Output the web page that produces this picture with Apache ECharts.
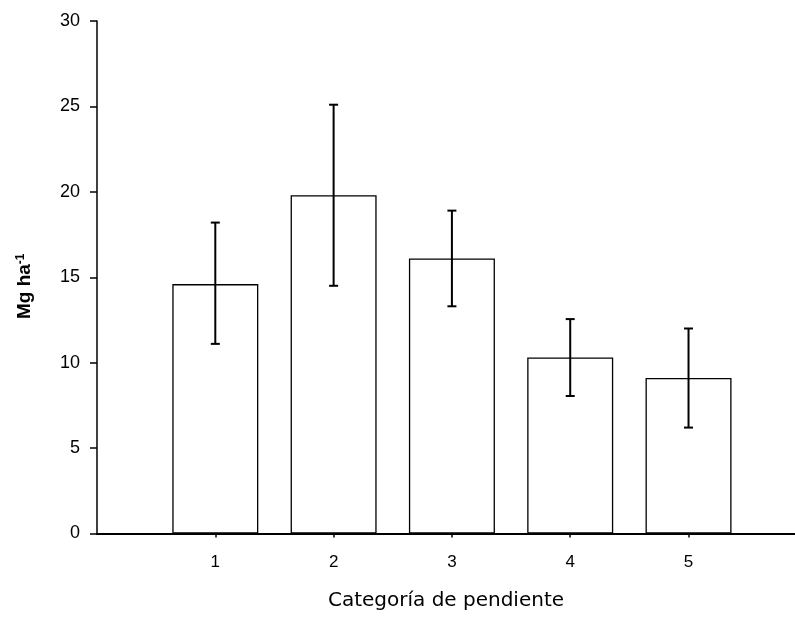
<!DOCTYPE html>
<html>
<head>
<meta charset="utf-8">
<script src="https://cdn.jsdelivr.net/npm/echarts@6/dist/echarts.min.js"></script>
<style>html,body{margin:0;padding:0;background:#fff}#c{width:795px;height:617px}</style>
</head>
<body>
<div id="c"></div>
<script>
const categories = [1, 2, 3, 4, 5];
const means = [14.6, 19.8, 16.1, 10.3, 9.1];
const errLow = [11.1, 14.5, 13.3, 8.05, 6.2];
const errHigh = [18.2, 25.1, 18.9, 12.55, 12.0];
const yTicks = [0, 5, 10, 15, 20, 25, 30];
const xMax = 5.9;

const chart = echarts.init(document.getElementById('c'));
const font = 'Liberation Sans, Arial, sans-serif';
chart.setOption({
  animation: false,
  backgroundColor: '#fff',
  grid: { left: 97, top: 21, right: 0, bottom: 83.5, show: false },
  xAxis: [{
    type: 'value', min: 0, max: xMax,
    splitLine: { show: false },
    axisLine: { show: true, onZero: false, lineStyle: { color: '#000', width: 1.5 } },
    axisTick: { show: true, length: 4, customValues: categories, lineStyle: { color: '#000', width: 1.5 } },
    axisLabel: { customValues: categories, color: '#000', fontSize: 17, fontFamily: font, margin: 20 },
    name: 'Categoría de pendiente', nameLocation: 'middle', nameGap: 57,
    nameTextStyle: { color: '#000', fontSize: 20, fontFamily: 'DejaVu Sans, sans-serif' }
  }, {
    type: 'value', min: 0, max: xMax, position: 'top',
    splitLine: { show: false },
    axisLine: { show: true, lineStyle: { color: '#000', width: 2 } },
    axisTick: { show: false }, axisLabel: { show: false }
  }],
  yAxis: {
    type: 'value', min: 0, max: 30, interval: 5,
    splitLine: { show: false },
    axisLine: { show: true, lineStyle: { color: '#000', width: 1.5 } },
    axisTick: { show: true, length: 7, lineStyle: { color: '#000', width: 1.5 } },
    axisLabel: { color: '#000', fontSize: 18, fontFamily: font, margin: 17,
      formatter: v => yTicks.includes(v) ? String(v) : '' },
    name: 'Mg ha{sup|-1}', nameLocation: 'middle', nameGap: 62,
    nameTextStyle: { color: '#000', fontSize: 19, fontWeight: 'bold', fontFamily: font, padding: [0, 18, 0, 0],
      rich: { sup: { fontSize: 12, fontWeight: 'bold', fontFamily: font, color: '#000', verticalAlign: 'top', padding: [0, 0, 8, 0] } } }
  },
  series: [{
    type: 'bar',
    barWidth: 86,
    data: categories.map((c, i) => [c, means[i]]),
    itemStyle: { color: '#fff', borderColor: '#000', borderWidth: 1.3 }
  }, {
    type: 'custom',
    data: categories.map((c, i) => [c, errLow[i], errHigh[i]]),
    renderItem: (params, api) => {
      const lo = api.coord([api.value(0), api.value(1)]);
      const hi = api.coord([api.value(0), api.value(2)]);
      const hw = 4.5;
      const st = { stroke: '#000', lineWidth: 2 };
      return { type: 'group', children: [
        { type: 'line', shape: { x1: lo[0], y1: lo[1], x2: hi[0], y2: hi[1] }, style: st },
        { type: 'line', shape: { x1: lo[0] - hw, y1: lo[1], x2: lo[0] + hw, y2: lo[1] }, style: st },
        { type: 'line', shape: { x1: hi[0] - hw, y1: hi[1], x2: hi[0] + hw, y2: hi[1] }, style: st }
      ]};
    },
    z: 5
  }]
});
</script>
</body>
</html>
